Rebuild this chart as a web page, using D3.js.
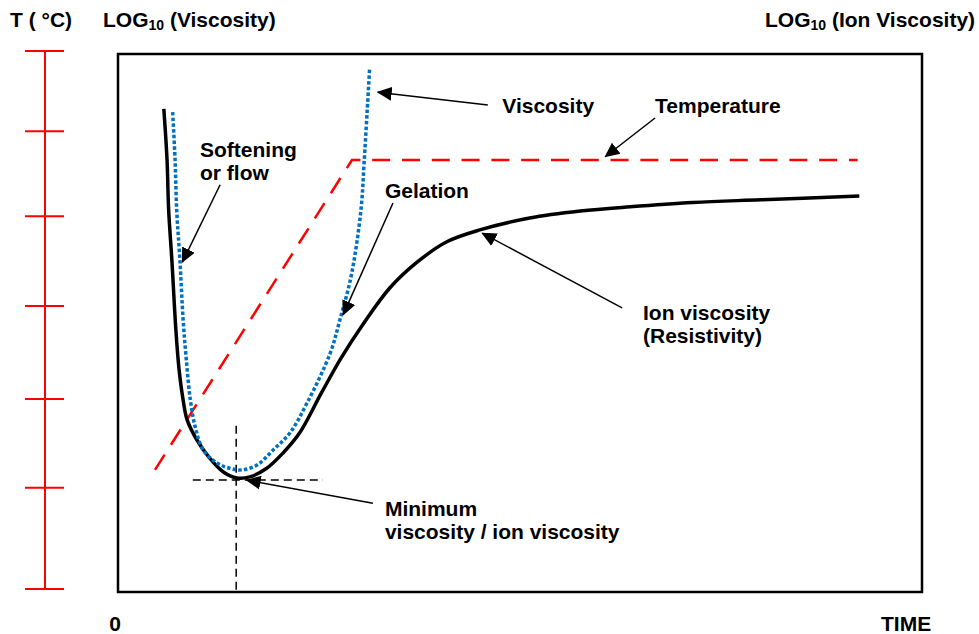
<!DOCTYPE html>
<html lang="en">
<head>
<meta charset="UTF-8">
<title>Cure monitoring</title>
<script src="https://d3js.org/d3.v7.min.js"></script>
<style>
  body { margin: 0; background: #fff; }
  text { font-family: "Liberation Sans", Arial, sans-serif; font-weight: bold; font-size: 21px; fill: #000; }
</style>
</head>
<body>
<svg width="979" height="634"></svg>
<script>
// time (0-100) vs. arbitrary log scale (0-100)
const ionViscosity = [
  [5.7, 89.8], [6.1, 80.3], [6.3, 71.0], [6.7, 61.7], [7.2, 48.7], [7.6, 41.3],
  [8.1, 35.7], [8.6, 32.0], [9.8, 28.3], [11.4, 24.9], [13.1, 22.3], [14.8, 21.2],
  [16.4, 21.4], [18.5, 23.0], [20.5, 25.8], [22.6, 29.6], [25.3, 37.0], [27.8, 43.6],
  [30.5, 49.8], [33.8, 56.5], [37.2, 61.3], [40.9, 65.1], [45.0, 67.3], [51.2, 69.5],
  [57.5, 70.8], [63.7, 71.6], [71.5, 72.4], [79.9, 72.9], [92.2, 73.6]
];
const viscosity = [
  [6.8, 89.2], [7.1, 80.3], [7.3, 71.0], [7.7, 61.7], [8.1, 50.6], [8.5, 43.1],
  [9.0, 35.7], [9.6, 30.7], [10.6, 26.4], [12.3, 24.0], [13.9, 23.0], [15.4, 22.7],
  [17.3, 23.6], [19.3, 26.4], [21.4, 29.6], [23.5, 35.1], [26.4, 44.4], [27.6, 50.6],
  [28.9, 58.0], [29.7, 64.9], [30.3, 72.3], [30.6, 79.5], [31.0, 89.6], [31.3, 97.4]
];
const temperature = [[4.6, 22.7], [29.1, 80.3], [92.0, 80.3]];
const tempTicks = [0, 18.8, 35.3, 52.6, 69.3, 85.1, 100];
const minPoint = [14.7, 20.8];
const crossV = [30.9, 0];      // vertical guide, from / to
const crossH = [9.3, 25.5];    // horizontal guide, from / to

// annotations: text lines, anchor of text, arrow tail and head
const notes = [
  { lines: ["Viscosity"], at: [47.8, 89.0], from: [46.0, 90.5], to: [32.3, 92.9] },
  { lines: ["Temperature"], at: [66.8, 89.0], from: [66.8, 88.1], to: [60.6, 80.9] },
  { lines: ["Softening", "or flow"], at: [10.2, 80.9], from: [12.7, 75.7], to: [8.0, 61.3] },
  { lines: ["Gelation"], at: [33.2, 73.2], from: [34.2, 72.3], to: [28.0, 51.5] },
  { lines: ["Ion viscosity", "(Resistivity)"], at: [65.3, 50.6], from: [62.7, 52.8], to: [45.3, 66.7] },
  { lines: ["Minimum", "viscosity / ion viscosity"], at: [33.2, 14.1], from: [31.7, 16.5], to: [16.0, 20.8] }
];

const svg = d3.select("svg");
const x = d3.scaleLinear([0, 100], [118, 922]);
const y = d3.scaleLinear([0, 100], [592, 54]);
const yT = d3.scaleLinear([0, 100], [589, 51]);

svg.append("defs").append("marker")
  .attr("id", "head").attr("markerUnits", "userSpaceOnUse")
  .attr("viewBox", "0 -8 15 16").attr("refX", 14).attr("refY", 0)
  .attr("markerWidth", 15).attr("markerHeight", 16).attr("orient", "auto")
  .append("path").attr("d", "M0,-7L15,0L0,7Z").attr("fill", "#000");

// temperature axis (red, no labels)
const tAxis = svg.append("g").attr("stroke", "#ff0000").attr("stroke-width", 2);
tAxis.append("line").attr("x1", 45).attr("x2", 45).attr("y1", yT(0)).attr("y2", yT(100));
tAxis.selectAll("line.tick").data(tempTicks).enter().append("line")
  .attr("class", "tick").attr("x1", 25).attr("x2", 64)
  .attr("y1", d => yT(d)).attr("y2", d => yT(d));

// frame
svg.append("rect").attr("x", x(0)).attr("y", y(100))
  .attr("width", x(100) - x(0)).attr("height", y(0) - y(100))
  .attr("fill", "none").attr("stroke", "#000").attr("stroke-width", 2.5);

// minimum guides
svg.append("line").attr("x1", x(minPoint[0])).attr("x2", x(minPoint[0]))
  .attr("y1", y(crossV[0])).attr("y2", y(crossV[1]))
  .attr("stroke", "#000").attr("stroke-width", 1.5).attr("stroke-dasharray", "8,5");
svg.append("line").attr("x1", x(crossH[0])).attr("x2", x(crossH[1]))
  .attr("y1", y(minPoint[1])).attr("y2", y(minPoint[1]))
  .attr("stroke", "#000").attr("stroke-width", 1.5).attr("stroke-dasharray", "8,5");

const line = d3.line().x(d => x(d[0])).y(d => y(d[1])).curve(d3.curveCatmullRom.alpha(0.5));

svg.append("path").datum(temperature)
  .attr("d", d3.line().x(d => x(d[0])).y(d => y(d[1])))
  .attr("fill", "none").attr("stroke", "#ff0000").attr("stroke-width", 2.5)
  .attr("stroke-dasharray", "18,11.8");

svg.append("path").datum(ionViscosity).attr("d", line)
  .attr("fill", "none").attr("stroke", "#000").attr("stroke-width", 3.5);

svg.append("path").datum(viscosity).attr("d", line)
  .attr("fill", "none").attr("stroke", "#0070c0").attr("stroke-width", 3.5)
  .attr("stroke-dasharray", "3.5,2.2");

// annotations
const g = svg.append("g");
notes.forEach(n => {
  g.append("line").attr("x1", x(n.from[0])).attr("y1", y(n.from[1]))
    .attr("x2", x(n.to[0])).attr("y2", y(n.to[1]))
    .attr("stroke", "#000").attr("stroke-width", 1.5).attr("marker-end", "url(#head)");
  const t = g.append("text").attr("x", x(n.at[0])).attr("y", y(n.at[1]));
  n.lines.forEach((s, i) => t.append("tspan").attr("x", x(n.at[0])).attr("dy", i ? 23 : 0).text(s));
});

// headers and footer
svg.append("text").attr("x", 10).attr("y", 27).text("T ( °C)");
const h2 = svg.append("text").attr("x", 103).attr("y", 27);
h2.append("tspan").text("LOG");
h2.append("tspan").attr("font-size", 14).attr("dy", 3).text("10");
h2.append("tspan").attr("dy", -3).text(" (Viscosity)");
const h3 = svg.append("text").attr("x", 765).attr("y", 27);
h3.append("tspan").text("LOG");
h3.append("tspan").attr("font-size", 14).attr("dy", 3).text("10");
h3.append("tspan").attr("dy", -3).text(" (Ion Viscosity)");
svg.append("text").attr("x", 115).attr("y", 631).attr("text-anchor", "middle").text("0");
svg.append("text").attr("x", 881).attr("y", 631).text("TIME");
</script>
</body>
</html>
